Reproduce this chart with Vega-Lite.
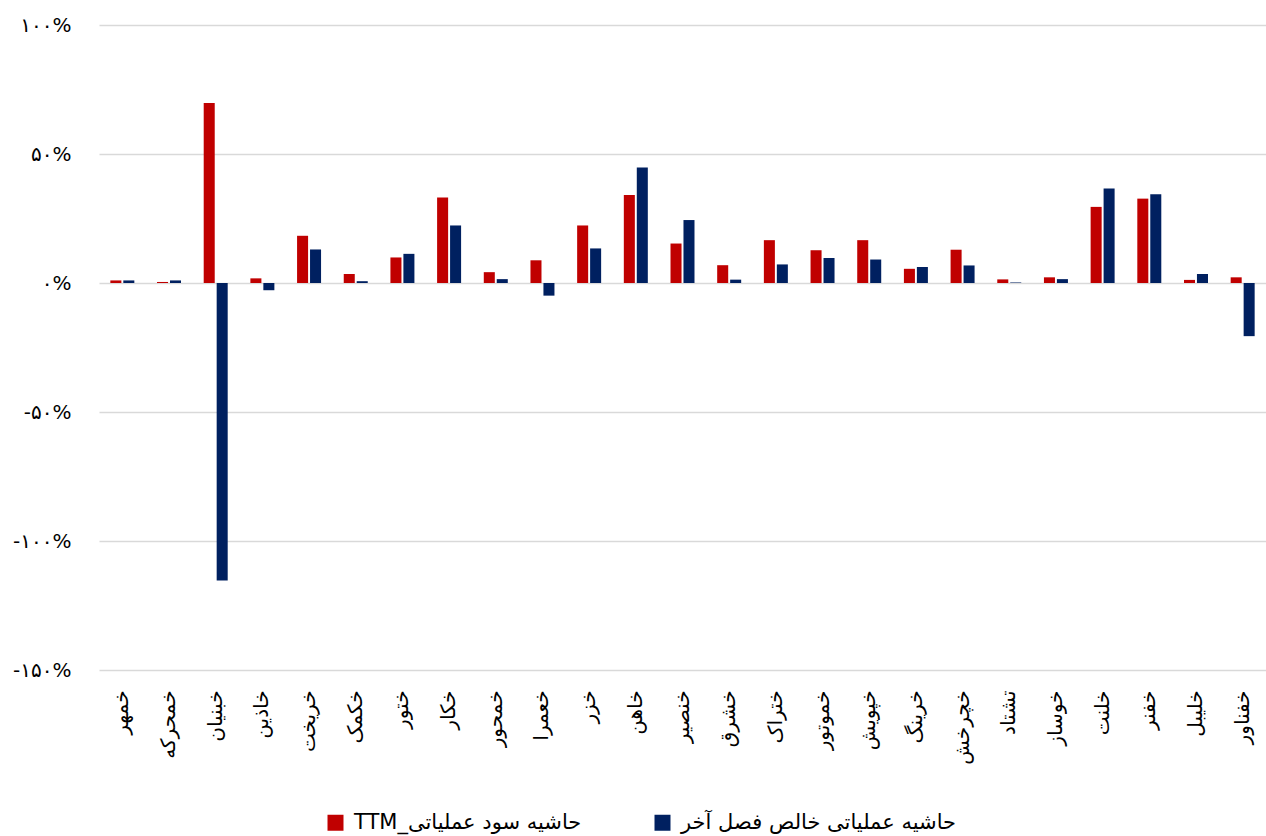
{
  "$schema": "https://vega.github.io/schema/vega-lite/v6.json",
  "autosize": {"type": "none"},
  "width": 1167,
  "height": 645,
  "padding": {"left": 99, "top": 25, "right": 0, "bottom": 166},
  "background": "white",
  "config": {
    "font": "DejaVu Sans",
    "view": {"stroke": null}
  },
  "data": {
    "values": [
      {"symbol": "خمهر", "series": "حاشیه سود عملیاتی_TTM", "value": 1.0},
      {"symbol": "خمهر", "series": "حاشیه عملیاتی خالص فصل آخر", "value": 1.0},
      {"symbol": "خمحرکه", "series": "حاشیه سود عملیاتی_TTM", "value": 0.4},
      {"symbol": "خمحرکه", "series": "حاشیه عملیاتی خالص فصل آخر", "value": 1.0},
      {"symbol": "خبنیان", "series": "حاشیه سود عملیاتی_TTM", "value": 69.8},
      {"symbol": "خبنیان", "series": "حاشیه عملیاتی خالص فصل آخر", "value": -115.3},
      {"symbol": "خاذین", "series": "حاشیه سود عملیاتی_TTM", "value": 1.8},
      {"symbol": "خاذین", "series": "حاشیه عملیاتی خالص فصل آخر", "value": -2.8},
      {"symbol": "خریخت", "series": "حاشیه سود عملیاتی_TTM", "value": 18.3},
      {"symbol": "خریخت", "series": "حاشیه عملیاتی خالص فصل آخر", "value": 13.0},
      {"symbol": "خکمک", "series": "حاشیه سود عملیاتی_TTM", "value": 3.5},
      {"symbol": "خکمک", "series": "حاشیه عملیاتی خالص فصل آخر", "value": 0.7},
      {"symbol": "ختور", "series": "حاشیه سود عملیاتی_TTM", "value": 9.9},
      {"symbol": "ختور", "series": "حاشیه عملیاتی خالص فصل آخر", "value": 11.3},
      {"symbol": "خکار", "series": "حاشیه سود عملیاتی_TTM", "value": 33.1},
      {"symbol": "خکار", "series": "حاشیه عملیاتی خالص فصل آخر", "value": 22.3},
      {"symbol": "خمحور", "series": "حاشیه سود عملیاتی_TTM", "value": 4.2},
      {"symbol": "خمحور", "series": "حاشیه عملیاتی خالص فصل آخر", "value": 1.5},
      {"symbol": "خعمرا", "series": "حاشیه سود عملیاتی_TTM", "value": 8.8},
      {"symbol": "خعمرا", "series": "حاشیه عملیاتی خالص فصل آخر", "value": -4.9},
      {"symbol": "خزر", "series": "حاشیه سود عملیاتی_TTM", "value": 22.3},
      {"symbol": "خزر", "series": "حاشیه عملیاتی خالص فصل آخر", "value": 13.4},
      {"symbol": "خاهن", "series": "حاشیه سود عملیاتی_TTM", "value": 34.1},
      {"symbol": "خاهن", "series": "حاشیه عملیاتی خالص فصل آخر", "value": 44.8},
      {"symbol": "خنصیر", "series": "حاشیه سود عملیاتی_TTM", "value": 15.3},
      {"symbol": "خنصیر", "series": "حاشیه عملیاتی خالص فصل آخر", "value": 24.4},
      {"symbol": "خشرق", "series": "حاشیه سود عملیاتی_TTM", "value": 6.9},
      {"symbol": "خشرق", "series": "حاشیه عملیاتی خالص فصل آخر", "value": 1.3},
      {"symbol": "ختراک", "series": "حاشیه سود عملیاتی_TTM", "value": 16.6},
      {"symbol": "ختراک", "series": "حاشیه عملیاتی خالص فصل آخر", "value": 7.2},
      {"symbol": "خموتور", "series": "حاشیه سود عملیاتی_TTM", "value": 12.7},
      {"symbol": "خموتور", "series": "حاشیه عملیاتی خالص فصل آخر", "value": 9.7},
      {"symbol": "خپویش", "series": "حاشیه سود عملیاتی_TTM", "value": 16.6},
      {"symbol": "خپویش", "series": "حاشیه عملیاتی خالص فصل آخر", "value": 9.1},
      {"symbol": "خرینگ", "series": "حاشیه سود عملیاتی_TTM", "value": 5.5},
      {"symbol": "خرینگ", "series": "حاشیه عملیاتی خالص فصل آخر", "value": 6.2},
      {"symbol": "خچرخش", "series": "حاشیه سود عملیاتی_TTM", "value": 12.9},
      {"symbol": "خچرخش", "series": "حاشیه عملیاتی خالص فصل آخر", "value": 6.8},
      {"symbol": "تشتاد", "series": "حاشیه سود عملیاتی_TTM", "value": 1.4},
      {"symbol": "تشتاد", "series": "حاشیه عملیاتی خالص فصل آخر", "value": 0.2},
      {"symbol": "خوساز", "series": "حاشیه سود عملیاتی_TTM", "value": 2.2},
      {"symbol": "خوساز", "series": "حاشیه عملیاتی خالص فصل آخر", "value": 1.5},
      {"symbol": "خلنت", "series": "حاشیه سود عملیاتی_TTM", "value": 29.5},
      {"symbol": "خلنت", "series": "حاشیه عملیاتی خالص فصل آخر", "value": 36.6},
      {"symbol": "خفنر", "series": "حاشیه سود عملیاتی_TTM", "value": 32.7},
      {"symbol": "خفنر", "series": "حاشیه عملیاتی خالص فصل آخر", "value": 34.4},
      {"symbol": "خلیبل", "series": "حاشیه سود عملیاتی_TTM", "value": 1.2},
      {"symbol": "خلیبل", "series": "حاشیه عملیاتی خالص فصل آخر", "value": 3.5},
      {"symbol": "خفناور", "series": "حاشیه سود عملیاتی_TTM", "value": 2.2},
      {"symbol": "خفناور", "series": "حاشیه عملیاتی خالص فصل آخر", "value": -20.6}
    ]
  },
  "mark": {"type": "bar"},
  "encoding": {
    "x": {
      "field": "symbol",
      "type": "nominal",
      "sort": null,
      "scale": {"paddingInner": 0.486, "paddingOuter": 0.243},
      "axis": {
        "title": null,
        "orient": "bottom",
        "labelAngle": -90,
        "labelFontSize": 20,
        "labelColor": "#000000",
        "labelPadding": 20,
        "ticks": false,
        "domain": false
      }
    },
    "xOffset": {
      "field": "series",
      "type": "nominal",
      "scale": {
        "domain": ["حاشیه سود عملیاتی_TTM", "حاشیه عملیاتی خالص فصل آخر"],
        "paddingInner": 0.15
      }
    },
    "y": {
      "field": "value",
      "type": "quantitative",
      "scale": {"domain": [-150, 100], "nice": false, "zero": true},
      "axis": {
        "title": null,
        "values": [-150, -100, -50, 0, 50, 100],
        "labelExpr": "replace(replace(replace(datum.value + '%', regexp('0', 'g'), '۰'), regexp('1', 'g'), '۱'), regexp('5', 'g'), '۵')",
        "labelFontSize": 20,
        "labelColor": "#000000",
        "labelPadding": 28,
        "ticks": false,
        "domain": false,
        "grid": true,
        "gridColor": "#d9d9d9",
        "gridWidth": 1.5
      }
    },
    "color": {
      "field": "series",
      "type": "nominal",
      "scale": {
        "domain": ["حاشیه سود عملیاتی_TTM", "حاشیه عملیاتی خالص فصل آخر"],
        "range": ["#C00000", "#002060"]
      },
      "legend": {
        "title": null,
        "orient": "none",
        "direction": "horizontal",
        "legendX": 226,
        "legendY": 787,
        "symbolType": "square",
        "symbolSize": 256,
        "symbolStrokeWidth": 0,
        "symbolOpacity": 1,
        "labelFontSize": 21,
        "labelColor": "#000000",
        "labelOffset": 8,
        "columnPadding": 70,
        "labelLimit": 400,
        "labelExpr": "'\u202B' + datum.label + '\u202C'"
      }
    }
  }
}
